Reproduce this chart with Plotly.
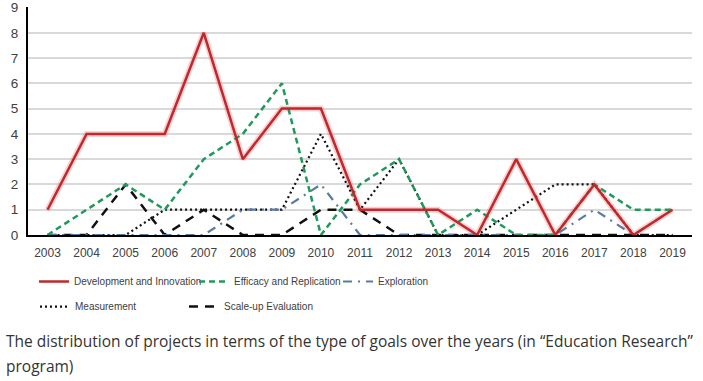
import plotly.graph_objects as go

years = [str(y) for y in range(2003, 2020)]
dev_innov = [1, 4, 4, 4, 8, 3, 5, 5, 1, 1, 1, 0, 3, 0, 2, 0, 1]
efficacy = [0, 1, 2, 1, 3, 4, 6, 0, 2, 3, 0, 1, 0, 0, 2, 1, 1]
exploration = [0, 0, 0, 0, 0, 1, 1, 2, 0, 0, 0, 0, 0, 0, 1, 0, 1]
measurement = [0, 0, 0, 1, 1, 1, 1, 4, 1, 3, 0, 0, 1, 2, 2, 0, 0]
scaleup = [0, 0, 2, 0, 1, 0, 0, 1, 1, 0, 0, 0, 0, 0, 0, 0, 0]
y_ticks = list(range(0, 10))

fig = go.Figure()
# faint glow under red line
fig.add_trace(go.Scatter(x=years, y=dev_innov, mode="lines",
                         line=dict(color="rgba(240,120,120,0.35)", width=6),
                         showlegend=False, hoverinfo="skip"))
fig.add_trace(go.Scatter(x=years, y=scaleup, mode="lines", name="Scale-up Evaluation",
                         line=dict(color="#111111", width=2.5, dash="9px,7px"), legend="legend5"))
fig.add_trace(go.Scatter(x=years, y=measurement, mode="lines", name="Measurement",
                         line=dict(color="#111111", width=2.2, dash="2px,3px"), legend="legend4"))
fig.add_trace(go.Scatter(x=years, y=exploration, mode="lines", name="Exploration",
                         line=dict(color="#5a7aa6", width=2.2, dash="9px,6px,2px,6px"), legend="legend3"))
fig.add_trace(go.Scatter(x=years, y=efficacy, mode="lines", name="Efficacy and Replication",
                         line=dict(color="#1f9a5c", width=2.5, dash="6px,4px"), legend="legend2"))
fig.add_trace(go.Scatter(x=years, y=dev_innov, mode="lines", name="Development and Innovation",
                         line=dict(color="#c0282d", width=2.5), legend="legend"))

leg_common = dict(orientation="h", xanchor="left", yanchor="middle",
                  font=dict(family="Liberation Sans, Arial, sans-serif",
                            size=10, color="#404040"),
                  bgcolor="rgba(0,0,0,0)", itemclick=False, itemdoubleclick=False)

plot_left, plot_w = 28, 664


def px2paper(px):
    return (px - plot_left) / plot_w


fig.update_layout(
    width=703, height=381,
    margin=dict(l=28, r=11, t=7, b=146, autoexpand=False),
    paper_bgcolor="white", plot_bgcolor="white",
    showlegend=True,
    legend=dict(x=px2paper(34), y=-0.204, **leg_common),
    legend2=dict(x=px2paper(194), y=-0.204, **leg_common),
    legend3=dict(x=px2paper(338), y=-0.204, **leg_common),
    legend4=dict(x=px2paper(35), y=-0.314, **leg_common),
    legend5=dict(x=px2paper(184), y=-0.314, **leg_common),
    xaxis=dict(type="category", range=[-0.5, 16.5], showgrid=False,
               showline=True, linecolor="black", linewidth=2,
               ticks="outside", ticklen=6, tickcolor="rgba(0,0,0,0)",
               tickfont=dict(family="Liberation Sans, Arial, sans-serif", size=12, color="#404040")),
    yaxis=dict(range=[0, 9.02], tickvals=y_ticks, showgrid=True, gridcolor="#d9d9d9", gridwidth=1.5,
               showline=True, linecolor="black", linewidth=2, zeroline=False,
               ticks="outside", ticklen=5, tickcolor="rgba(0,0,0,0)",
               tickfont=dict(family="Liberation Sans, Arial, sans-serif", size=13.5, color="#404040")),
    annotations=[
        dict(text="The distribution of projects in terms of the type of goals over the years (in “Education Research”",
             xref="paper", yref="paper", x=-0.0355, y=-0.465, xanchor="left", yanchor="middle",
             showarrow=False, font=dict(family="Open Sans, sans-serif", size=15.5, color="#333333")),
        dict(text="program)",
             xref="paper", yref="paper", x=-0.0355, y=-0.575, xanchor="left", yanchor="middle",
             showarrow=False, font=dict(family="Open Sans, sans-serif", size=15.5, color="#333333")),
    ],
)

fig.write_html("out.html", config={"displayModeBar": False},
               post_script="document.body.style.margin='0';document.body.style.overflow='hidden';")
